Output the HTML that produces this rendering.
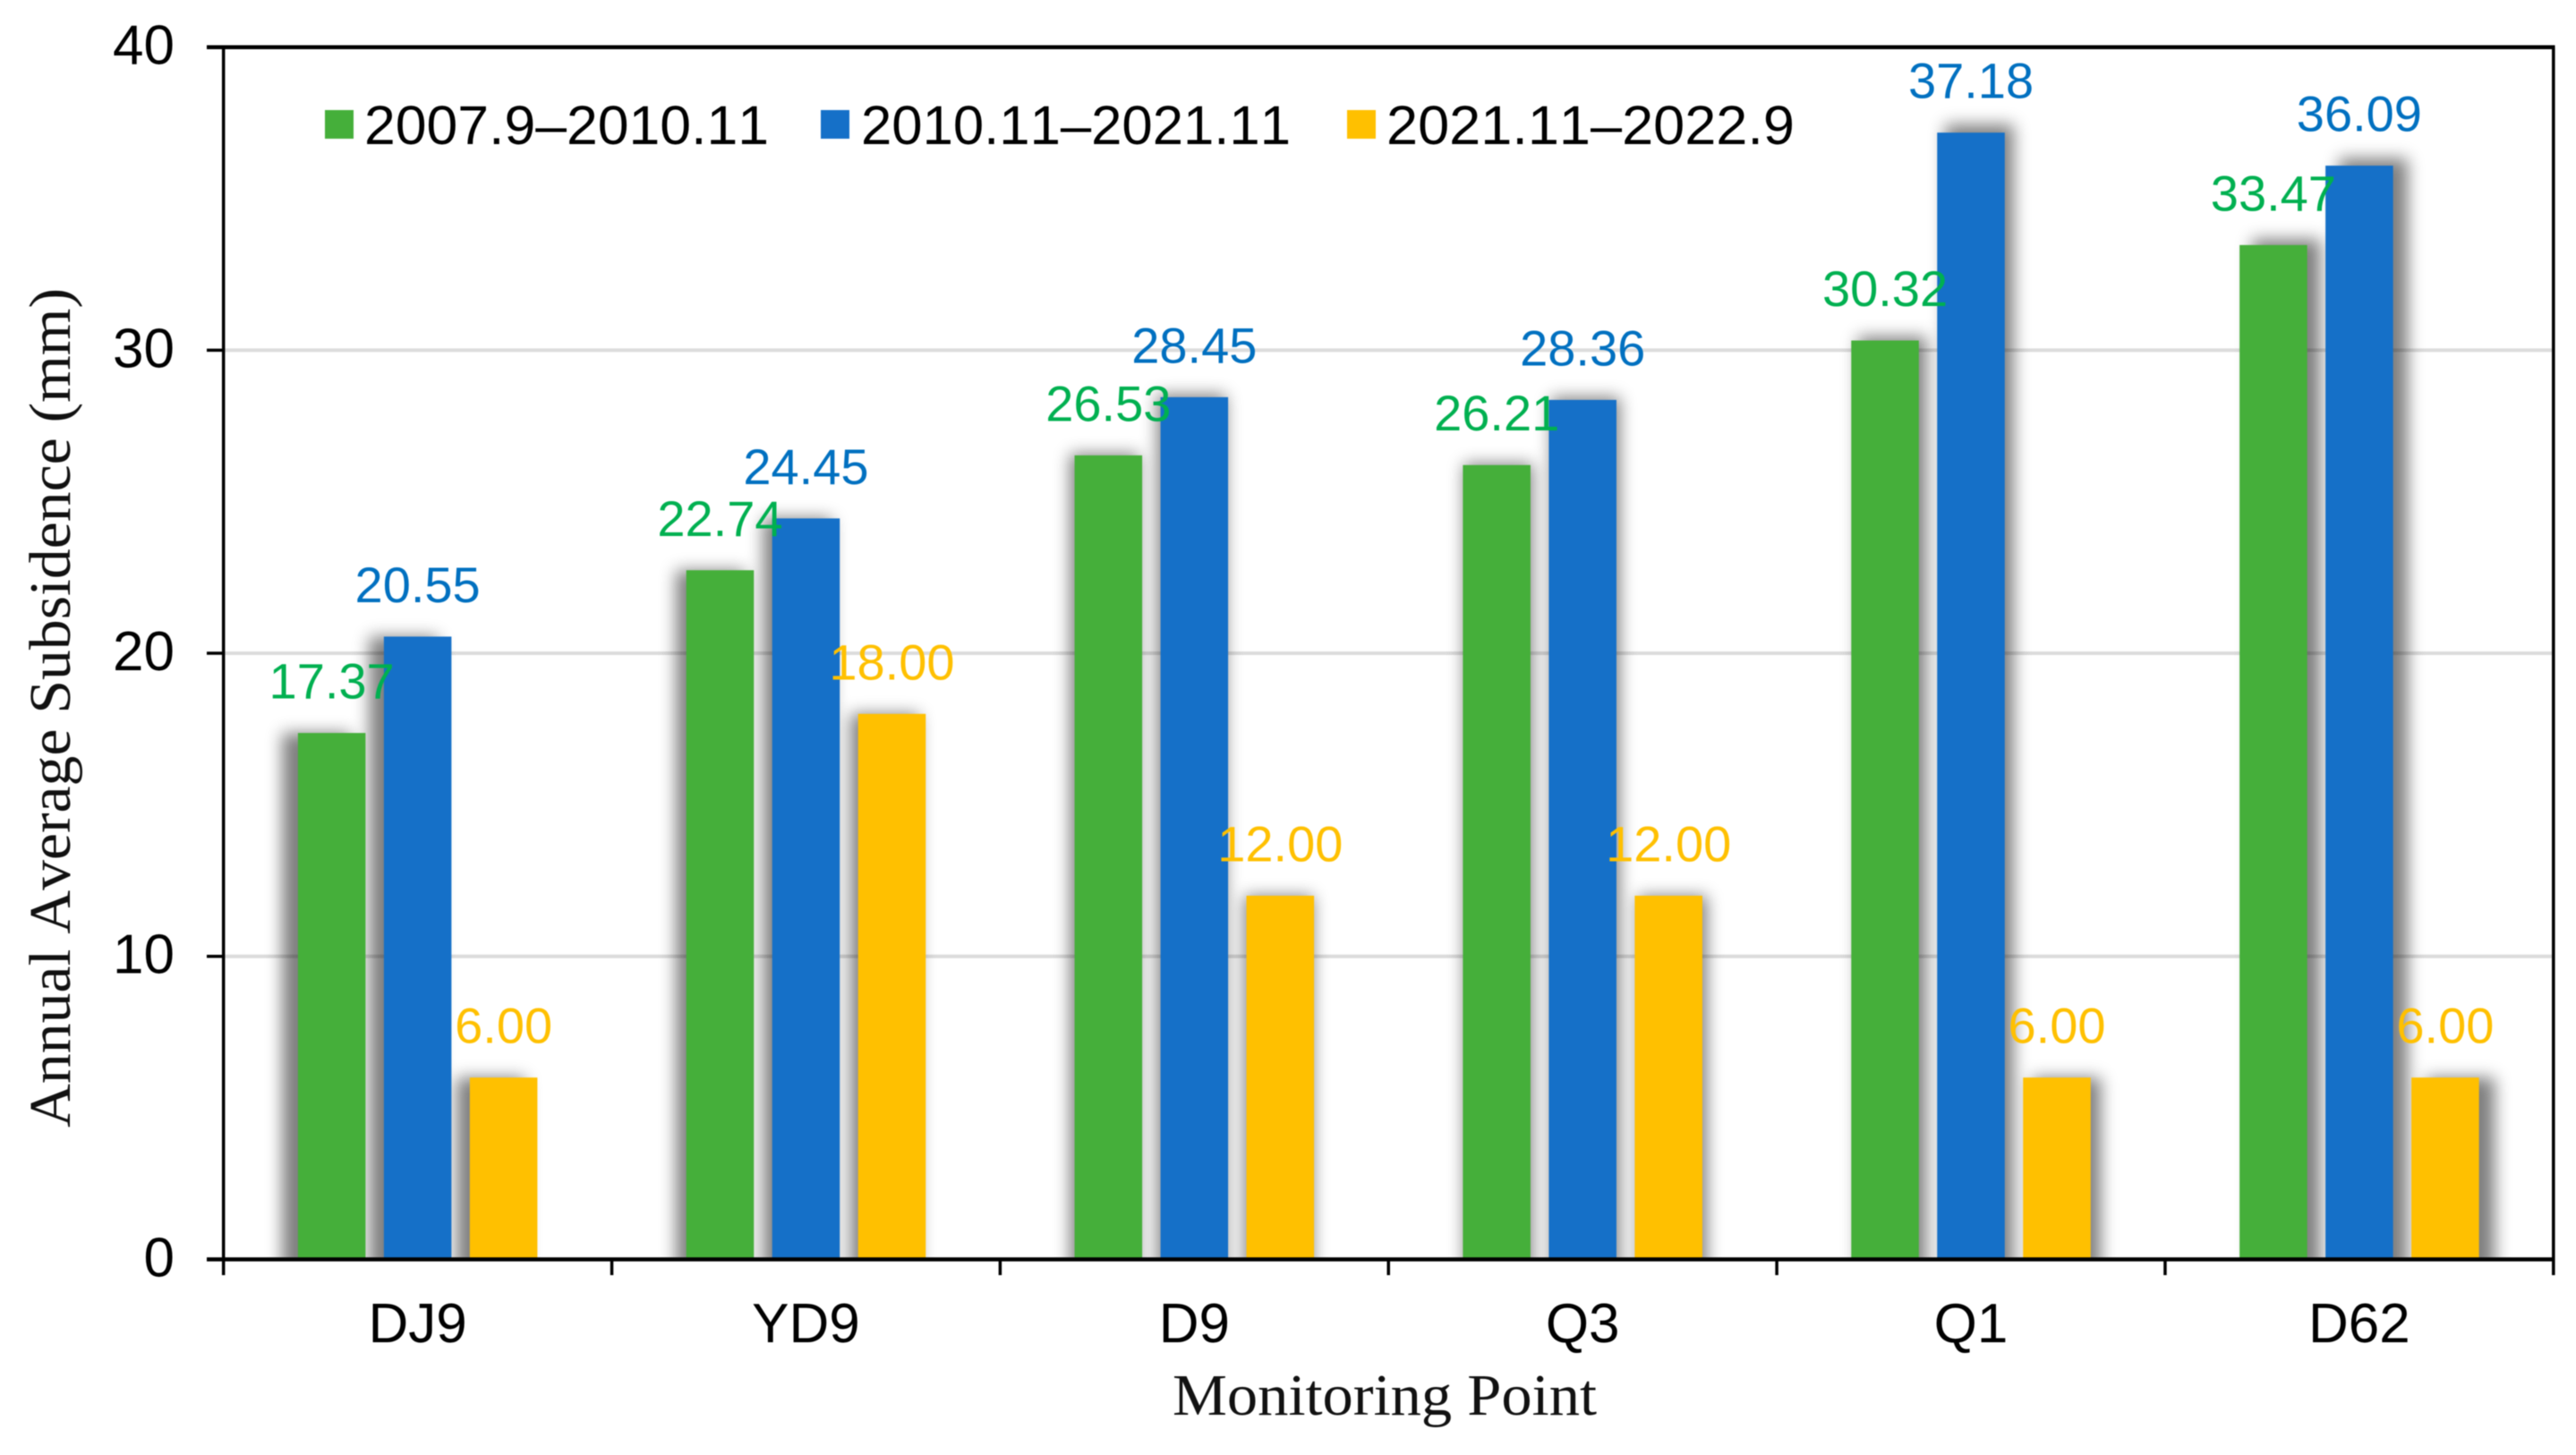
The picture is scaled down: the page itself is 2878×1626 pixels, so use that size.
<!DOCTYPE html>
<html lang="en">
<head>
<meta charset="utf-8">
<title>Annual Average Subsidence by Monitoring Point</title>
<style>
html,body{margin:0;padding:0;background:#fff;width:2878px;height:1626px;overflow:hidden}
svg{display:block;filter:blur(0.6px)}
text{font-family:"Liberation Sans",Arial,sans-serif;font-kerning:none}
.serif{font-family:"Liberation Serif","Times New Roman",serif}
</style>
</head>
<body>
<svg id="chart" xmlns="http://www.w3.org/2000/svg" width="2878" height="1626" viewBox="0 0 2878 1626">
  <defs>
    <filter id="bar-shadow-blur" x="-5%" y="-5%" width="110%" height="110%">
      <feGaussianBlur stdDeviation="9"/>
    </filter>
    <clipPath id="plot-clip"><rect x="251" y="54" width="2601" height="1353"/></clipPath>
  </defs>
  <rect width="2878" height="1626" fill="#ffffff"/>
  <g id="grid"></g>
  <g clip-path="url(#plot-clip)">
    <g opacity="0.5">
      <g id="shadows" filter="url(#bar-shadow-blur)"></g>
    </g>
  </g>
  <g id="bars"></g>
  <g id="axes"></g>
  <g id="labels"></g>
  <g id="legend"></g>
  <text class="serif" transform="translate(78,791) rotate(-90)" text-anchor="middle" font-size="66" textLength="938" lengthAdjust="spacingAndGlyphs" fill="#111">Annual Average Subsidence (mm)</text>
  <text class="serif" x="1547" y="1581" text-anchor="middle" font-size="66" textLength="474" lengthAdjust="spacingAndGlyphs" fill="#111">Monitoring Point</text>
</svg>
<script>
const categories = ['DJ9', 'YD9', 'D9', 'Q3', 'Q1', 'D62'];
const seriesNames = ['2007.9–2010.11', '2010.11–2021.11', '2021.11–2022.9'];
const seriesA = [17.37, 22.74, 26.53, 26.21, 30.32, 33.47];
const seriesB = [20.55, 24.45, 28.45, 28.36, 37.18, 36.09];
const seriesC = [6.00, 18.00, 12.00, 12.00, 6.00, 6.00];
const yTicks = [0, 10, 20, 30, 40];

const allSeries = [seriesA, seriesB, seriesC];
const barColors = ['#45AF3A', '#1570C8', '#FFC000'];
const labelColors = ['#00B050', '#0070C0', '#FFC000'];
const seriesSlugs = ['2007-2010', '2010-2021', '2021-2022'];

const NS = 'http://www.w3.org/2000/svg';
const plotLeft = 249.7, plotRight = 2852.8, plotTop = 52.7, plotBottom = 1407.4;
const yMax = 40;
const barWidth = 75.5, barPitch = 96;
const catWidth = (plotRight - plotLeft) / categories.length;
const plotCenter = (plotLeft + plotRight) / 2 + 0;

function yScale(v) { return plotBottom - (v / yMax) * (plotBottom - plotTop); }
function xCenter(i) { return plotLeft + (i + 0.5) * catWidth; }
function xBar(i, s) { return xCenter(i) + (s - 1) * barPitch - barWidth / 2; }

function add(parent, tag, attrs, content) {
  const el = document.createElementNS(NS, tag);
  for (const k in attrs) el.setAttribute(k, attrs[k]);
  if (content !== undefined) el.textContent = content;
  parent.appendChild(el);
  return el;
}

const gridG = document.getElementById('grid');
const shadowG = document.getElementById('shadows');
const barsG = document.getElementById('bars');
const axesG = document.getElementById('axes');
const labelsG = document.getElementById('labels');
const legendG = document.getElementById('legend');

yTicks.forEach(function (t) {
  const y = yScale(t);
  if (t > 0 && t < yMax) {
    const g = add(gridG, 'line', { x1: plotLeft, x2: plotRight, y1: y, y2: y, stroke: '#dcdcdc', 'stroke-width': 4 });
    
    
  }
  const tick = add(axesG, 'line', { x1: 231, x2: plotLeft, y1: y, y2: y, stroke: '#000', 'stroke-width': 3.5 });
  
  
  const lab = add(axesG, 'text', { x: 195, y: y + 19, 'text-anchor': 'end', 'font-size': 62, fill: '#000' }, String(t));
  
  
});

allSeries.forEach(function (values, s) {
  values.forEach(function (v, i) {
    const x = xBar(i, s);
    const top = yScale(v);
    const sx0 = x + 0.0145 * (x - plotCenter);
    const sx1 = x + barWidth + 0.0145 * (x + barWidth - plotCenter);
    const sTop = top - Math.max(0, 0.02 * (600 - top));
    const sh = add(shadowG, 'rect', { x: sx0, y: sTop, width: sx1 - sx0, height: plotBottom + 40 - sTop, fill: '#000' });
    
    
    const bar = add(barsG, 'rect', { x: x, y: top, width: barWidth, height: plotBottom - top, fill: barColors[s] });
    
    
    const lab = add(labelsG, 'text', { x: x + barWidth / 2, y: top - 38.5, 'text-anchor': 'middle', 'font-size': 56, fill: labelColors[s] }, v.toFixed(2));
    
    
  });
});

const frameLeft = add(axesG, 'line', { x1: plotLeft, x2: plotLeft, y1: plotTop, y2: 1425, stroke: '#000', 'stroke-width': 3.5 });


const frameRight = add(axesG, 'line', { x1: plotRight, x2: plotRight, y1: plotTop, y2: 1425, stroke: '#000', 'stroke-width': 3.5 });


const frameBottom = add(axesG, 'line', { x1: 231, x2: plotRight + 1.7, y1: plotBottom, y2: plotBottom, stroke: '#000', 'stroke-width': 4.5 });


const frameTop = add(axesG, 'line', { x1: 231, x2: plotRight + 1.7, y1: plotTop, y2: plotTop, stroke: '#000', 'stroke-width': 4.5 });



categories.forEach(function (c, i) {
  const tx = plotLeft + (i + 1) * catWidth;
  if (i < categories.length - 1) {
    const tick = add(axesG, 'line', { x1: tx, x2: tx, y1: plotBottom, y2: 1425, stroke: '#000', 'stroke-width': 3.5 });
    
    
  }
  const lab = add(axesG, 'text', { x: xCenter(i), y: 1500, 'text-anchor': 'middle', 'font-size': 62, fill: '#000' }, c);
  
  
});

const legendStarts = [363, 917, 1505];
const legendTextStarts = [407, 962, 1549];
const legendTextWidths = [452, 480, 456];
seriesNames.forEach(function (name, s) {
  const sw = add(legendG, 'rect', { x: legendStarts[s], y: 123, width: 32, height: 32, fill: barColors[s] });
  
  
  const t = add(legendG, 'text', { x: legendTextStarts[s], y: 161, 'font-size': 61.5, fill: '#000', textLength: legendTextWidths[s], lengthAdjust: 'spacingAndGlyphs' }, name);
  
  
});
</script>
</body>
</html>
